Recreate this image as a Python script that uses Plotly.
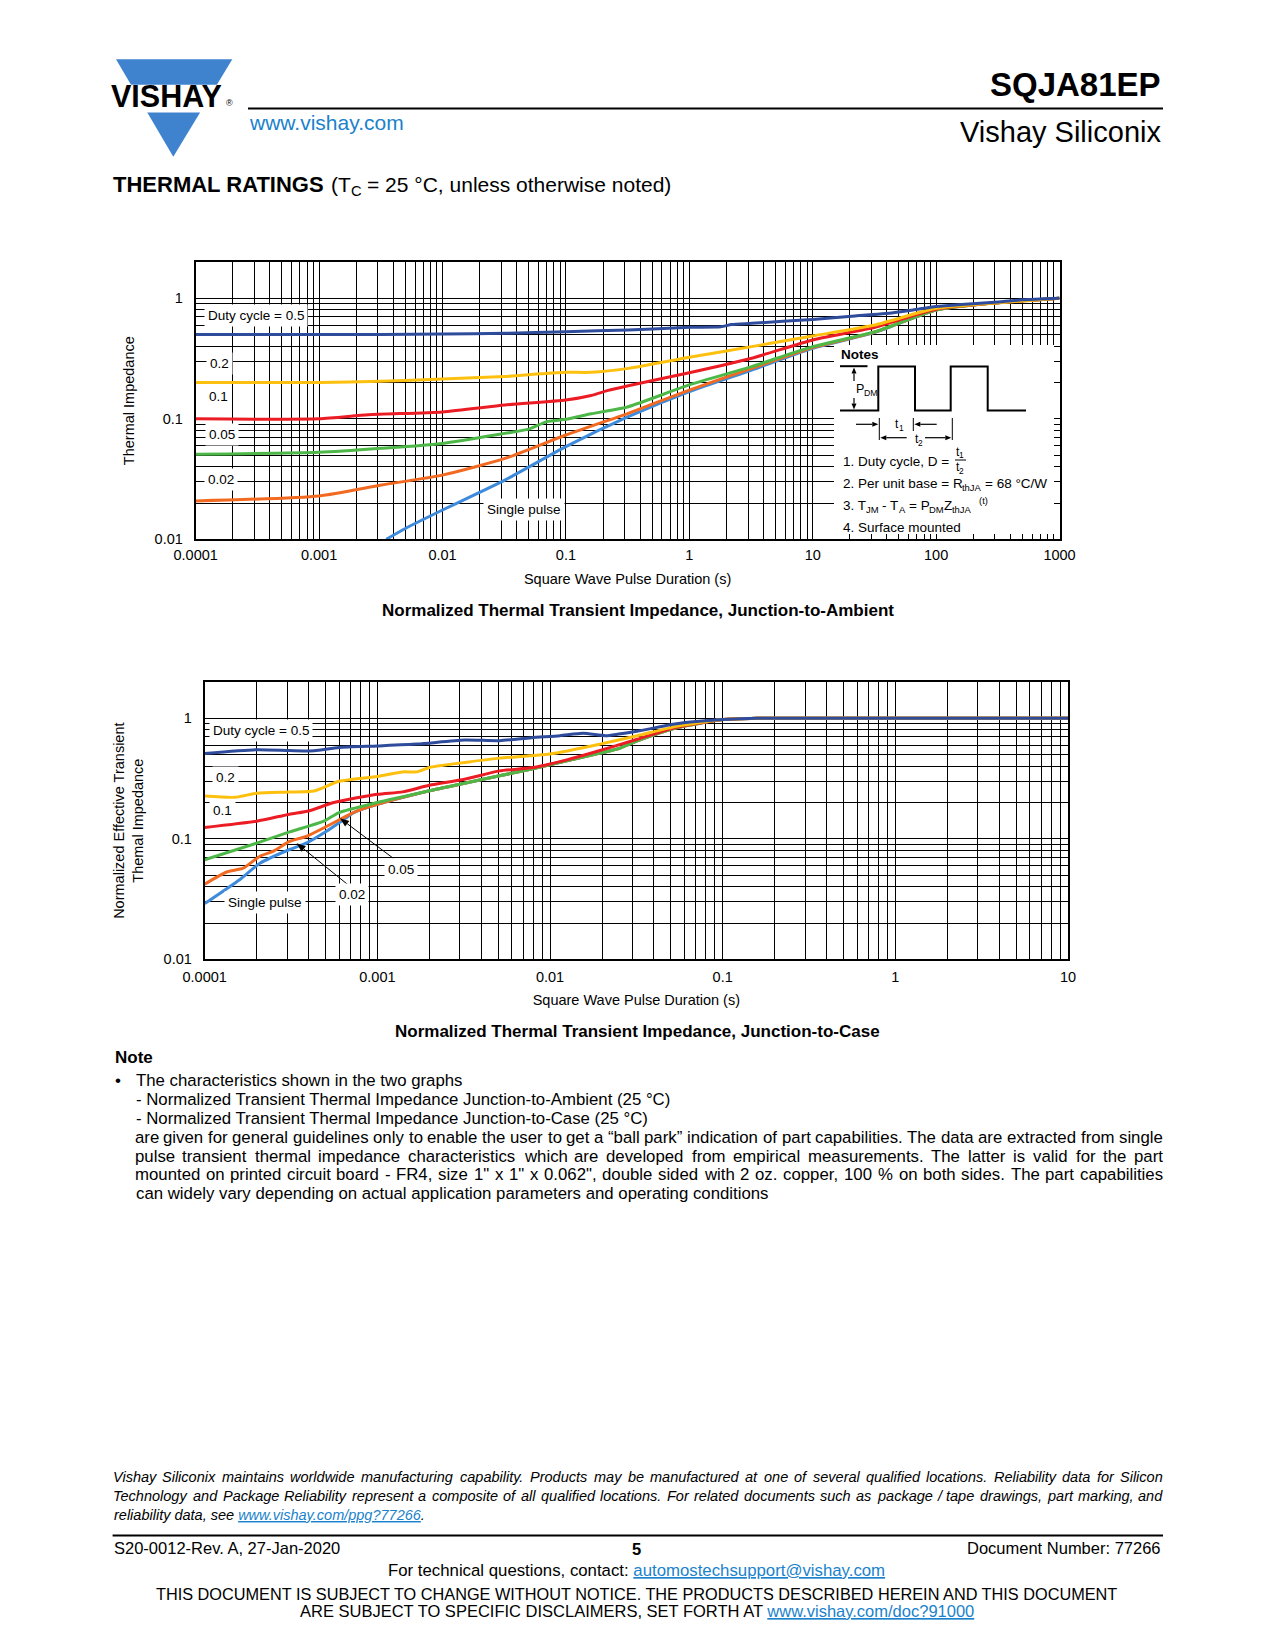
import math
import plotly.graph_objects as go

# ---------------- DATA ----------------
# Chart 1: Normalized Thermal Transient Impedance, Junction-to-Ambient
ja_x_d05 = [0.0001, 0.001, 0.0032, 0.01, 0.032, 0.1, 0.32, 1, 1.8, 2.2, 3.2, 10, 22, 45, 65, 100, 160, 320, 500, 1000]
ja_y_d05 = [0.50, 0.50, 0.50, 0.505, 0.512, 0.528, 0.546, 0.574, 0.58, 0.605, 0.62, 0.668, 0.713, 0.76, 0.80, 0.855, 0.89, 0.93, 0.97, 1.0]

ja_x_d02 = [0.0001, 0.001, 0.0032, 0.01, 0.032, 0.063, 0.1, 0.16, 0.32, 1, 3.2, 10, 32, 100, 320, 1000]
ja_y_d02 = [0.20, 0.20, 0.205, 0.214, 0.224, 0.236, 0.243, 0.243, 0.262, 0.324, 0.397, 0.487, 0.60, 0.826, 0.92, 1.0]

ja_x_d01 = [0.0001, 0.001, 0.0025, 0.01, 0.032, 0.1, 0.16, 0.22, 0.32, 1, 3.2, 10, 32, 100, 320, 1000]
ja_y_d01 = [0.10, 0.10, 0.108, 0.114, 0.130, 0.143, 0.156, 0.172, 0.188, 0.241, 0.318, 0.451, 0.574, 0.81, 0.92, 1.0]

ja_x_d005 = [0.0001, 0.001, 0.0032, 0.01, 0.032, 0.05, 0.07, 0.1, 0.16, 0.32, 1, 3.2, 10, 32, 100, 320, 1000]
ja_y_d005 = [0.0507, 0.0527, 0.0569, 0.0625, 0.0757, 0.082, 0.0948, 0.099, 0.11, 0.126, 0.191, 0.271, 0.397, 0.528, 0.80, 0.92, 1.0]

ja_x_d002 = [0.0001, 0.001, 0.0032, 0.01, 0.032, 0.1, 0.32, 1, 3.2, 10, 32, 100, 320, 1000]
ja_y_d002 = [0.0208, 0.0229, 0.0282, 0.0341, 0.0469, 0.0734, 0.111, 0.173, 0.262, 0.39, 0.525, 0.80, 0.92, 1.0]

ja_x_single = [0.0035, 0.005, 0.01, 0.032, 0.1, 0.32, 1, 3.2, 10, 32, 100, 320, 1000]
ja_y_single = [0.010, 0.0123, 0.0175, 0.031, 0.0587, 0.104, 0.168, 0.254, 0.385, 0.522, 0.80, 0.92, 1.0]

# Chart 2: Normalized Thermal Transient Impedance, Junction-to-Case
jc_x_d05 = [0.0001, 0.0002, 0.00031, 0.00043, 0.0006, 0.001, 0.0017, 0.0032, 0.0051, 0.0078, 0.0114, 0.0155, 0.021, 0.025, 0.032, 0.054, 0.1, 0.16, 1, 10]
jc_y_d05 = [0.51, 0.548, 0.54, 0.537, 0.573, 0.59, 0.611, 0.66, 0.652, 0.69, 0.716, 0.75, 0.716, 0.74, 0.78, 0.90, 0.975, 1.0, 1.0, 1.0]

jc_x_d02 = [0.0001, 0.00015, 0.0002, 0.00031, 0.00043, 0.0006, 0.001, 0.0014, 0.0017, 0.002, 0.0032, 0.0051, 0.01, 0.0195, 0.032, 0.054, 0.1, 0.16, 10]
jc_y_d02 = [0.226, 0.221, 0.239, 0.244, 0.249, 0.30, 0.329, 0.359, 0.359, 0.39, 0.43, 0.467, 0.505, 0.61, 0.716, 0.857, 0.976, 1.0, 1.0]

jc_x_d01 = [0.0001, 0.0002, 0.00031, 0.0004, 0.00056, 0.001, 0.0014, 0.002, 0.0032, 0.0051, 0.008, 0.0125, 0.0178, 0.032, 0.054, 0.1, 0.16, 10]
jc_y_d01 = [0.124, 0.14, 0.16, 0.17, 0.20, 0.234, 0.245, 0.278, 0.312, 0.366, 0.39, 0.452, 0.52, 0.67, 0.84, 0.976, 1.0, 1.0]

jc_x_d005 = [0.0001, 0.0002, 0.00031, 0.00049, 0.0006, 0.001, 0.002, 0.0032, 0.0051, 0.0077, 0.0125, 0.0195, 0.025, 0.032, 0.054, 0.1, 0.16, 10]
jc_y_d005 = [0.067, 0.092, 0.114, 0.14, 0.165, 0.20, 0.25, 0.289, 0.333, 0.378, 0.444, 0.514, 0.56, 0.65, 0.835, 0.975, 1.0, 1.0]

jc_x_d002 = [0.0001, 0.000134, 0.000167, 0.00021, 0.00025, 0.00031, 0.00039, 0.00061, 0.00073, 0.001, 0.002, 0.0032, 0.0051, 0.0077, 0.0125, 0.0195, 0.025, 0.032, 0.054, 0.1, 0.16, 10]
jc_y_d002 = [0.042, 0.053, 0.057, 0.072, 0.079, 0.095, 0.105, 0.145, 0.166, 0.193, 0.25, 0.289, 0.333, 0.378, 0.444, 0.514, 0.56, 0.65, 0.835, 0.975, 1.0, 1.0]

jc_x_single = [0.0001, 0.00016, 0.00021, 0.00031, 0.00039, 0.00051, 0.00061, 0.00073, 0.001, 0.002, 0.0032, 0.0051, 0.0077, 0.0125, 0.0195, 0.025, 0.032, 0.054, 0.1, 0.16, 10]
jc_y_single = [0.029, 0.046, 0.063, 0.0815, 0.0925, 0.116, 0.138, 0.165, 0.193, 0.25, 0.289, 0.333, 0.378, 0.444, 0.514, 0.56, 0.65, 0.835, 0.975, 1.0, 1.0]

# tick labels
ja_x_ticklabels = ["0.0001", "0.001", "0.01", "0.1", "1", "10", "100", "1000"]
jc_x_ticklabels = ["0.0001", "0.001", "0.01", "0.1", "1", "10"]
y_ticklabels = ["0.01", "0.1", "1"]

series_colors = {
    "single": "#3F8BDB",
    "0.02": "#F26A21",
    "0.05": "#4DB848",
    "0.1": "#EC1C24",
    "0.2": "#FDC00F",
    "0.5": "#2F4C9C",
}

# ---------------- helpers ----------------
# The page is laid out in "page pixels" (1275 x 1650); the browser puts the plot 8 px in.
OFF = 8
FW, FH = 1275 - 2 * OFF, 1650 - 2 * OFF
FONT = "Liberation Sans, Arial, Helvetica, sans-serif"
BLUE_LINK = "#1a82cc"


def fx(x):
    return (x - OFF) / FW


def fy(y):
    return 1 - (y - OFF) / FH


annotations = []
shapes = []


def ann(x, y, text, size, xanchor="left", yanchor="middle", color="black", bg=None, pad=0, **kw):
    d = dict(x=fx(x), y=fy(y), xref="paper", yref="paper", text=text, showarrow=False,
             xanchor=xanchor, yanchor=yanchor, font=dict(family=FONT, size=size, color=color))
    if bg:
        d.update(bgcolor=bg, borderpad=pad)
    d.update(kw)
    annotations.append(d)


def line(x0, y0, x1, y1, w=1.0, color="black"):
    shapes.append(dict(type="line", xref="paper", yref="paper", x0=fx(x0), y0=fy(y0),
                       x1=fx(x1), y1=fy(y1), line=dict(color=color, width=w), layer="above"))


def rect(x0, y0, x1, y1, fill="white"):
    shapes.append(dict(type="rect", xref="paper", yref="paper", x0=fx(x0), y0=fy(y0),
                       x1=fx(x1), y1=fy(y1), fillcolor=fill, line=dict(width=0), layer="above"))


def path(points, fill=None, w=2.0, closed=False):
    s = "M " + " L ".join(f"{fx(a):.5f},{fy(b):.5f}" for a, b in points)
    if closed:
        s += " Z"
    d = dict(type="path", xref="paper", yref="paper", path=s, layer="above",
             line=dict(color="black" if fill is None else fill, width=w if fill is None else 0))
    if fill:
        d["fillcolor"] = fill
    shapes.append(d)


def arrow(tipx, tipy, tailx, taily, head=6.0, half=2.5, w=1.2):
    dx, dy = tipx - tailx, tipy - taily
    n = math.hypot(dx, dy)
    ux, uy = dx / n, dy / n
    bx, by = tipx - ux * head, tipy - uy * head
    line(tailx, taily, bx, by, w=w)
    path([(tipx, tipy), (bx - uy * half, by + ux * half), (bx + uy * half, by - ux * half)],
         fill="black", closed=True)


# Arial / Liberation Sans advance widths (1/1000 em)
CW = {" ": 278, "!": 278, '"': 355, "%": 889, "'": 191, "(": 333, ")": 333, ",": 278, "-": 333,
      ".": 278, "/": 278, ":": 278, ";": 278, "?": 556, "=": 584, "“": 333, "”": 333, "°": 400,
      "A": 667, "B": 667, "C": 722, "D": 722, "E": 667, "F": 611, "G": 778, "H": 722, "I": 278,
      "J": 500, "K": 667, "L": 556, "M": 833, "N": 722, "O": 778, "P": 667, "Q": 778, "R": 722,
      "S": 667, "T": 611, "U": 722, "V": 667, "W": 944, "X": 667, "Y": 667, "Z": 611,
      "a": 556, "b": 556, "c": 500, "d": 556, "e": 556, "f": 278, "g": 556, "h": 556, "i": 222,
      "j": 222, "k": 500, "l": 222, "m": 833, "n": 556, "o": 556, "p": 556, "q": 556, "r": 333,
      "s": 500, "t": 278, "u": 556, "v": 500, "w": 722, "x": 500, "y": 500, "z": 500}
for _d in "0123456789":
    CW[_d] = 556
# Arial Bold (only the letters needed)
CWB = {" ": 278, "A": 722, "E": 667, "G": 778, "H": 722, "I": 278, "L": 611, "M": 833, "N": 722,
       "R": 722, "S": 667, "T": 611}


def text_w(s, size, table=CW):
    return sum(table.get(ch, 556) for ch in s) * size / 1000.0


def justified(x0, x1, y, text, size, italic=False):
    words = text.split(" ")
    ws = [text_w(w, size) for w in words]
    gap = (x1 - x0 - sum(ws)) / (len(words) - 1)
    x = x0
    for i, (wd, ww) in enumerate(zip(words, ws)):
        t = f"<i>{wd}</i>" if italic else wd
        if i == len(words) - 1:
            ann(x1, y, t, size, xanchor="right", borderpad=0, borderwidth=0)
        else:
            ann(x, y, t, size, borderpad=0, borderwidth=0)
        x += ww + gap


def rich(x, y, parts, size, anchor="left"):
    """Text with sub/superscripts laid out as separate pieces.
    parts: list of (text, kind[, size]) with kind in n / b / sub / sup."""
    pieces = []
    cx = 0.0
    for p in parts:
        text, kind = p[0], p[1]
        base = p[2] if len(p) > 2 else size
        fs = base * 0.7 if kind in ("sub", "sup") else base
        table = CWB if kind == "b" else CW
        lead = len(text) - len(text.lstrip(" "))
        trail = len(text) - len(text.rstrip(" "))
        core = text.strip(" ")
        cx += lead * 0.278 * fs
        if core:
            dy = 0.314 * size if kind == "sub" else (-0.316 * size if kind == "sup" else 0.0)
            t = f"<b>{core}</b>" if kind == "b" else core
            pieces.append((cx, dy, t, fs))
            cx += text_w(core, fs, table)
        cx += trail * 0.278 * fs
    shift = -cx / 2 if anchor == "center" else 0.0
    for px_, dy, t, fs in pieces:
        ann(x + shift + px_, y + dy, t, fs, borderpad=0, borderwidth=0)


def grid_vals(lo, hi):
    vals = []
    for k in range(lo, hi):
        for d in range(1, 10):
            vals.append(d * 10.0 ** k)
    return vals


def tick_text(vals, labels):
    out = []
    lab = {float(s): s for s in labels}
    for v in vals:
        key = None
        for f, s in lab.items():
            if abs(v - f) / f < 1e-9:
                key = s
        out.append(key if key else "")
    return out


# ---------------- figure ----------------
fig = go.Figure()

order = ["single", "0.02", "0.05", "0.1", "0.2", "0.5"]
ja = {"single": (ja_x_single, ja_y_single), "0.02": (ja_x_d002, ja_y_d002),
      "0.05": (ja_x_d005, ja_y_d005), "0.1": (ja_x_d01, ja_y_d01),
      "0.2": (ja_x_d02, ja_y_d02), "0.5": (ja_x_d05, ja_y_d05)}
jc = {"single": (jc_x_single, jc_y_single), "0.02": (jc_x_d002, jc_y_d002),
      "0.05": (jc_x_d005, jc_y_d005), "0.1": (jc_x_d01, jc_y_d01),
      "0.2": (jc_x_d02, jc_y_d02), "0.5": (jc_x_d05, jc_y_d05)}

for key in order:
    xs, ys = ja[key]
    fig.add_trace(go.Scatter(x=xs, y=ys, mode="lines", xaxis="x", yaxis="y",
                             name=f"JA {key}", showlegend=False, hoverinfo="skip",
                             line=dict(color=series_colors[key], width=3, shape="spline", smoothing=0.6)))
for key in order:
    xs, ys = jc[key]
    fig.add_trace(go.Scatter(x=xs, y=ys, mode="lines", xaxis="x2", yaxis="y2",
                             name=f"JC {key}", showlegend=False, hoverinfo="skip",
                             line=dict(color=series_colors[key], width=3, shape="spline", smoothing=0.6)))

# axes
ja_xvals = grid_vals(-4, 3) + [1000.0]
jc_xvals = grid_vals(-4, 1) + [10.0]
yvals = grid_vals(-2, 0) + [1.0, 2.0]

tickfont = dict(family=FONT, size=14.5, color="black")
titlefont = dict(family=FONT, size=14.5, color="black")
common = dict(type="log", showgrid=True, gridcolor="black", gridwidth=1, showline=True,
              linecolor="black", linewidth=2, mirror=True, ticks="", zeroline=False,
              tickfont=tickfont, automargin=False, tickmode="array", fixedrange=True)

xaxis1 = dict(common, range=[-4, 3], domain=[fx(195.7), fx(1059.5)], anchor="y",
              tickvals=ja_xvals, ticktext=tick_text(ja_xvals, ja_x_ticklabels), ticklabelstandoff=1,
              title=dict(text="Square Wave Pulse Duration (s)", font=titlefont, standoff=12))
yaxis1 = dict(common, range=[-2, 0.30103], domain=[fy(539.3), fy(262)], anchor="x",
              tickvals=yvals, ticktext=tick_text(yvals, y_ticklabels), ticklabelstandoff=8,
              title=dict(text="Thermal Impedance", font=titlefont, standoff=16))
xaxis2 = dict(common, range=[-4, 1], domain=[fx(204.7), fx(1068)], anchor="y2",
              tickvals=jc_xvals, ticktext=tick_text(jc_xvals, jc_x_ticklabels), ticklabelstandoff=3,
              title=dict(text="Square Wave Pulse Duration (s)", font=titlefont, standoff=11))
yaxis2 = dict(common, range=[-2, 0.30103], domain=[fy(959.3), fy(682)], anchor="x2",
              tickvals=yvals, ticktext=tick_text(yvals, y_ticklabels), ticklabelstandoff=8,
              title=dict(text="Normalized Effective Transient<br>Themal Impedance", font=titlefont, standoff=16.5))

# ---------------- header ----------------
path([(116, 59.3), (232.3, 59.3), (173.3, 156.7)], fill="#3F83CF", closed=True)
rect(106, 84.8, 238, 112.6)
ann(166.7, 96.5, "<b>VISHAY</b>", 30.5, xanchor="center")
ann(224, 103, "®", 9)
line(248, 108.4, 1163, 108.4, w=2)
ann(1163, 84.2, "<b>SQJA81EP</b>", 33, xanchor="right")
ann(1163, 131.5, "Vishay Siliconix", 29, xanchor="right")
ann(247, 122, "www.vishay.com", 21, color=BLUE_LINK)
rich(112.6, 184, [("THERMAL RATINGS", "b", 22), (" (T", "n"), ("C", "sub"),
                  (" = 25 °C, unless otherwise noted)", "n")], 21)

# ---------------- chart 1 labels & notes box ----------------
lab = 13.5
ann(204, 315.7, "Duty cycle = 0.5", lab, bg="white", pad=3)
ann(206, 363.2, "0.2", lab, bg="white", pad=3)
ann(205, 396.4, "0.1", lab, bg="white", pad=3)
ann(205, 434.5, "0.05", lab, bg="white", pad=3)
ann(204, 479.6, "0.02", lab, bg="white", pad=3)
ann(524, 509.2, "Single pulse", lab, xanchor="center", bg="white", pad=3)

rect(834, 345, 1054, 534)
ann(839, 354.5, "<b>Notes</b>", 13.5)
line(840, 366.2, 867.5, 366.2, w=2)
path([(840, 410.5), (878.3, 410.5), (878.3, 366.5), (915, 366.5), (915, 410.5),
      (950.7, 410.5), (950.7, 366.5), (987.7, 366.5), (987.7, 410.5), (1026, 410.5)], w=2)
arrow(854, 367.5, 854, 381)
arrow(854, 409.5, 854, 398)
rich(856, 389, [("P", "n"), ("DM", "sub")], 12.5)
line(879.3, 418, 879.3, 440)
line(913.3, 418, 913.3, 431)
line(952.3, 418, 952.3, 440)
arrow(878.3, 424.3, 856, 424.3)
arrow(914.3, 424.3, 936.7, 424.3)
arrow(880.3, 437.7, 906.7, 437.7)
arrow(951.3, 437.7, 925, 437.7)
rich(899.3, 424, [("t", "n"), ("1", "sub")], 12, anchor="center")
rich(919, 439.5, [("t", "n"), ("2", "sub")], 12, anchor="center")
ann(840.5, 461, "1. Duty cycle, D = ", 13.5)
rich(960, 451.5, [("t", "n"), ("1", "sub")], 12, anchor="center")
line(955, 460, 966, 460, w=1)
rich(960, 467, [("t", "n"), ("2", "sub")], 12, anchor="center")
rich(842.5, 483.2, [("2. Per unit base = R", "n"), ("thJA", "sub"), (" = 68 °C/W", "n")], 13.5)
rich(842.5, 505, [("3. T", "n"), ("JM", "sub"), (" - T", "n"), ("A", "sub"), (" = P", "n"),
                  ("DM", "sub"), ("Z", "n"), ("thJA", "sub"), (" ", "n"), ("(t)", "sup")], 13.5)
ann(840.5, 527.2, "4. Surface mounted", 13.5)

ann(637.5, 610.2, "<b>Normalized Thermal Transient Impedance, Junction-to-Ambient</b>", 17, xanchor="center")

# ---------------- chart 2 labels ----------------
ann(209.5, 730.1, "Duty cycle = 0.5", lab, bg="white", pad=3)
ann(211.5, 777.5, "0.2", lab, bg="white", pad=3)
ann(209.5, 810.1, "0.1", lab, bg="white", pad=3)
ann(401.4, 869.2, "0.05", lab, xanchor="center", bg="white", pad=3)
ann(351.9, 894.3, "0.02", lab, xanchor="center", bg="white", pad=3)
ann(265, 902.7, "Single pulse", lab, xanchor="center", bg="white", pad=3)
arrow(296.7, 843.3, 348.3, 885, head=9, half=3.5, w=1)
arrow(340, 818.3, 393.3, 858.3, head=9, half=3.5, w=1)

ann(637.5, 1031, "<b>Normalized Thermal Transient Impedance, Junction-to-Case</b>", 17, xanchor="center")

# ---------------- note text ----------------
NOTE_SIZE = 16.8
ann(112.6, 1057.3, "<b>Note</b>", 17)
ann(113, 1080.5, "•", 17)
note_lines = [
    "The characteristics shown in the two graphs",
    "- Normalized Transient Thermal Impedance Junction-to-Ambient (25 °C)",
    "- Normalized Transient Thermal Impedance Junction-to-Case (25 °C)",
    "are given for general guidelines only to enable the user to get a “ball park” indication of part capabilities. The data are extracted from single",
    "pulse transient thermal impedance characteristics which are developed from empirical measurements. The latter is valid for the part",
    "mounted on printed circuit board - FR4, size 1\" x 1\" x 0.062\", double sided with 2 oz. copper, 100 % on both sides. The part capabilities",
    "can widely vary depending on actual application parameters and operating conditions",
]
note_y = [1080.5, 1099.4, 1118.4, 1137.3, 1156.2, 1174.1, 1193.0]
note_justify = [False, False, False, True, True, True, False]
for t, yy, jst in zip(note_lines, note_y, note_justify):
    if jst:
        justified(134.5, 1163, yy, t, NOTE_SIZE)
    else:
        ann(134.3, yy, t, NOTE_SIZE)

# ---------------- footer ----------------
FOOT_SIZE = 14.5
foot_lines = [
    "Vishay Siliconix maintains worldwide manufacturing capability. Products may be manufactured at one of several qualified locations. Reliability data for Silicon",
    "Technology and Package Reliability represent a composite of all qualified locations. For related documents such as package / tape drawings, part marking, and",
]
for t, yy in zip(foot_lines, [1477, 1496]):
    justified(112.6, 1163, yy, t, FOOT_SIZE, italic=True)
ann(112.3, 1515, "<i>reliability data, see <a href=\"http://www.vishay.com/ppg?77266\" style=\"color:#1a82cc;text-decoration:underline\">www.vishay.com/ppg?77266</a>.</i>", FOOT_SIZE)
line(112.6, 1535.5, 1163, 1535.5, w=2)
ann(112.3, 1548, "S20-0012-Rev. A, 27-Jan-2020", 16.5)
ann(636.5, 1549, "<b>5</b>", 16.5, xanchor="center")
ann(1163, 1548, "Document Number: 77266", 16.5, xanchor="right")
ann(636.5, 1570.7, "For technical questions, contact: <a href=\"mailto:automostechsupport@vishay.com\" style=\"color:#1a82cc;text-decoration:underline\">automostechsupport@vishay.com</a>", 16.8, xanchor="center")
ann(636.5, 1593.9, "THIS DOCUMENT IS SUBJECT TO CHANGE WITHOUT NOTICE. THE PRODUCTS DESCRIBED HEREIN AND THIS DOCUMENT", 16.3, xanchor="center")
ann(636.5, 1610.7, "ARE SUBJECT TO SPECIFIC DISCLAIMERS, SET FORTH AT <a href=\"http://www.vishay.com/doc?91000\" style=\"color:#1a82cc;text-decoration:underline\">www.vishay.com/doc?91000</a>", 16.5, xanchor="center")

fig.update_layout(
    template="none",
    width=FW, height=FH,
    margin=dict(l=0, r=0, t=0, b=0, pad=0),
    paper_bgcolor="white", plot_bgcolor="white",
    font=dict(family=FONT, color="black"),
    showlegend=False,
    xaxis=xaxis1, yaxis=yaxis1, xaxis2=xaxis2, yaxis2=yaxis2,
    annotations=annotations, shapes=shapes,
)

fig.write_html("out.html", config={"displayModeBar": False})
